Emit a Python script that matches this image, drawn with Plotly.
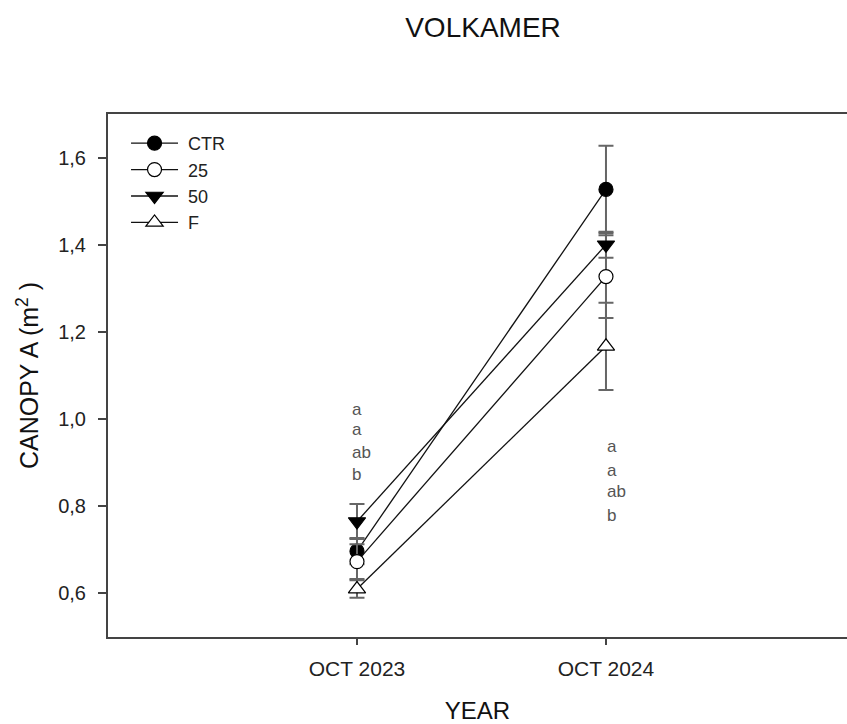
import plotly.graph_objects as go

years = ["OCT 2023", "OCT 2024"]
series_names = ["CTR", "25", "50", "F"]
ctr_vals = [0.697, 1.527]
ctr_err = [0.03, 0.10]
t25_vals = [0.673, 1.327]
t25_err = [0.04, 0.095]
t50_vals = [0.765, 1.400]
t50_err = [0.04, 0.03]
f_vals = [0.610, 1.167]
f_err = [0.02, 0.10]

letters_2023 = ["a", "a", "ab", "b"]
letters_2023_y = [1.023, 0.975, 0.924, 0.874]
letters_2024 = ["a", "a", "ab", "b"]
letters_2024_y = [0.936, 0.883, 0.833, 0.778]

FONT = "Liberation Sans, Arial, sans-serif"

styles = [
    dict(symbol="circle", color="black", size=14),
    dict(symbol="circle", color="white", size=14),
    dict(symbol="triangle-down", color="black", size=15),
    dict(symbol="triangle-up", color="white", size=15),
]
vals = [ctr_vals, t25_vals, t50_vals, f_vals]
errs = [ctr_err, t25_err, t50_err, f_err]

fig = go.Figure()
for name, v, e, st in zip(series_names, vals, errs, styles):
    fig.add_trace(go.Scatter(
        x=years, y=v, name="\u00a0" + name, mode="lines+markers",
        line=dict(color="#111111", width=1.3),
        marker=dict(symbol=st["symbol"], size=st["size"], color=st["color"],
                    line=dict(color="black", width=1.2)),
        error_y=dict(type="data", array=e, visible=True, color="#666666",
                     thickness=2, width=7.5),
    ))

annotations = []
for txt, yy in zip(letters_2023, letters_2023_y):
    annotations.append(dict(x=years[0], y=yy, xref="x", yref="y", text=txt,
                            showarrow=False, xanchor="left", yanchor="middle",
                            xshift=-7, font=dict(family=FONT, size=17, color="#555555")))
for txt, yy in zip(letters_2024, letters_2024_y):
    annotations.append(dict(x=years[1], y=yy, xref="x", yref="y", text=txt,
                            showarrow=False, xanchor="left", yanchor="middle",
                            xshift=-1, font=dict(family=FONT, size=17, color="#555555")))

W, H = 847, 724

fig.update_layout(
    width=W, height=H,
    margin=dict(l=108, r=0, t=114, b=87),
    paper_bgcolor="white", plot_bgcolor="white",
    font=dict(family=FONT, color="#222222"),
    title=dict(text="VOLKAMER", x=483 / W, xref="container", y=1 - 27 / H,
               yref="container", xanchor="center", yanchor="middle",
               font=dict(family=FONT, size=28, color="#111111")),
    showlegend=True,
    legend=dict(x=0.0244, y=0.979, xanchor="left", yanchor="top",
                bgcolor="rgba(0,0,0,0)", font=dict(family=FONT, size=18, color="#222222"),
                itemwidth=47, tracegroupgap=0),
    annotations=annotations,
    xaxis=dict(type="category", range=[-1, 1.968], showgrid=False, zeroline=False,
               showline=True, linecolor="#444444", linewidth=2, mirror=True,
               ticks="outside", ticklen=6, tickcolor="#444444", tickwidth=2,
               tickfont=dict(family=FONT, size=21, color="#222222"),
               ticklabelstandoff=6,
               title=dict(text="YEAR", font=dict(family=FONT, size=24, color="#111111"),
                          standoff=27)),
    yaxis=dict(range=[0.5, 1.7], tickvals=[0.6, 0.8, 1.0, 1.2, 1.4, 1.6],
               ticktext=["0,6", "0,8", "1,0", "1,2", "1,4", "1,6"],
               showgrid=False, zeroline=False, showline=True, linecolor="#444444",
               linewidth=2, mirror=False, ticks="outside", ticklen=8,
               tickcolor="#444444", tickwidth=2,
               tickfont=dict(family=FONT, size=20, color="#222222"),
               ticklabelstandoff=8,
               title=dict(text="CANOPY A (m<sup>2</sup> )",
                          font=dict(family=FONT, size=25, color="#111111"),
                          standoff=12)),
)

fig.write_html("out.html", config={"displayModeBar": False},
               post_script="document.body.style.margin='0';document.body.style.overflow='hidden';")
